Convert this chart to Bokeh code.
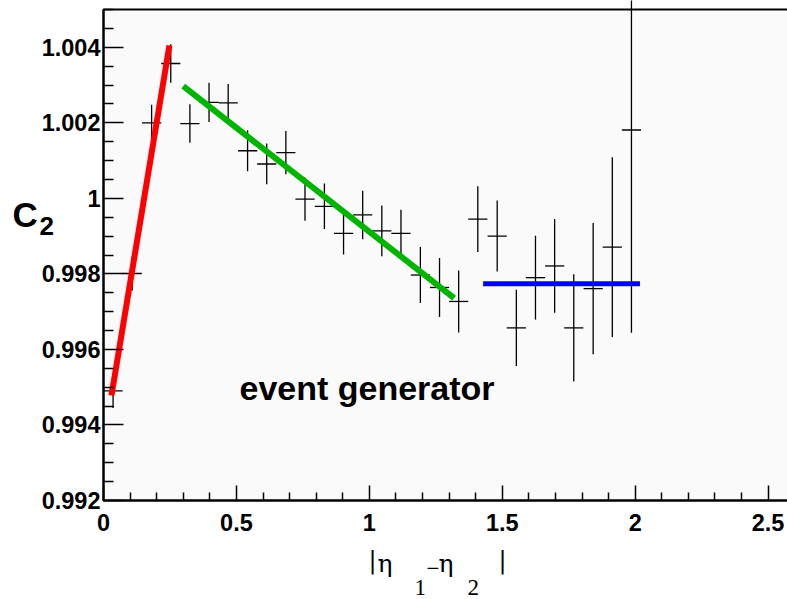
from bokeh.plotting import figure
from bokeh.models import FixedTicker, Label, BoxAnnotation
from bokeh.embed import file_html
from bokeh.resources import INLINE

# ---- data ----
eta_diff = [0.036, 0.108, 0.181, 0.253, 0.325, 0.397, 0.469, 0.542, 0.614, 0.686,
            0.758, 0.831, 0.903, 0.975, 1.047, 1.119, 1.192, 1.264, 1.336, 1.408,
            1.481, 1.553, 1.625, 1.697, 1.769, 1.842, 1.914, 1.986]
c2 = [0.99490, 0.99801, 1.00200, 1.00357, 1.00198, 1.00254, 1.00253, 1.00126, 1.00091, 1.00121,
      0.99998, 0.99979, 0.99907, 0.99956, 0.99914, 0.99907, 0.99797, 0.99764, 0.99727, 0.99945,
      0.99900, 0.99657, 0.99790, 0.99821, 0.99657, 0.99761, 0.99871, 1.00181]
c2_err = [0.00045, 0.00045, 0.00048, 0.00051, 0.00051, 0.00052, 0.00050, 0.00054, 0.00054, 0.00057,
          0.00057, 0.00060, 0.00056, 0.00064, 0.00067, 0.00063, 0.00074, 0.00078, 0.00082, 0.00087,
          0.00094, 0.00101, 0.00111, 0.00124, 0.00142, 0.00174, 0.00238, 0.00537]
bin_width = 0.0722

fit_red_x = [0.030, 0.248]
fit_red_y = [0.99478, 1.00405]
fit_green_x = [0.300, 1.319]
fit_green_y = [1.00297, 0.99736]
fit_blue_x = [1.428, 2.018]
fit_blue_y = [0.99774, 0.99774]

x_ticks = [0.0, 0.5, 1.0, 1.5, 2.0, 2.5]
x_tick_labels = ["0", "0.5", "1", "1.5", "2", "2.5"]
y_ticks = [0.992, 0.994, 0.996, 0.998, 1.0, 1.002, 1.004]
y_tick_labels = ["0.992", "0.994", "0.996", "0.998", "1", "1.002", "1.004"]

AX_X = (0.0, 2.573)      # visible axis span
AX_Y = (0.992, 1.005)

# ---- geometry (canvas pixels) ----
W, H = 787, 599
FL, FT, FR, FB = 103, 9, 787, 500   # plot area edges in canvas px
sx = (FR - FL) / (AX_X[1] - AX_X[0])
sy = (FB - FT) / (AX_Y[1] - AX_Y[0])
x_range = (AX_X[0] - FL / sx, AX_X[1] + (W - FR) / sx)
y_range = (AX_Y[0] - (H - FB) / sy, AX_Y[1] + FT / sy)

def px(xp, yp):
    return x_range[0] + xp / sx, y_range[1] - yp / sy

p = figure(width=W, height=H, x_range=x_range, y_range=y_range,
           output_backend="svg", toolbar_location=None,
           min_border_left=0, min_border_right=0, min_border_top=0, min_border_bottom=0)
p.background_fill_color = "white"
p.border_fill_color = "white"
p.outline_line_color = None
p.grid.visible = False

# plot area (frame) with top line
p.add_layout(BoxAnnotation(left=AX_X[0], right=AX_X[1] + 0.2, bottom=AX_Y[0], top=AX_Y[1],
                           fill_color="#fafafa", fill_alpha=1.0, line_color="black",
                           line_alpha=1.0, line_width=2, level="underlay"))

minor_x = [i * 0.1 for i in range(0, 26) if i % 5 != 0]
minor_y = [0.992 + i * 0.0005 for i in range(0, 27) if i % 4 != 0]
p.xaxis.ticker = FixedTicker(ticks=x_ticks, minor_ticks=minor_x)
p.yaxis.ticker = FixedTicker(ticks=y_ticks, minor_ticks=minor_y)
p.xaxis.major_label_overrides = {t: l for t, l in zip(x_ticks, x_tick_labels)}
p.yaxis.major_label_overrides = {t: l for t, l in zip(y_ticks, y_tick_labels)}
p.xaxis.fixed_location = AX_Y[0]
p.yaxis.fixed_location = AX_X[0]
p.xaxis.bounds = AX_X
p.yaxis.bounds = AX_Y

for ax in (p.xaxis, p.yaxis):
    ax.axis_line_color = "black"
    ax.axis_line_width = 2
    ax.major_tick_line_color = "black"
    ax.minor_tick_line_color = "black"
    ax.major_tick_line_width = 1.5
    ax.minor_tick_line_width = 1.5
    ax.major_tick_out = 0
    ax.minor_tick_out = 0
    ax.major_label_text_font = "Liberation Sans"
    ax.major_label_text_font_style = "bold"
    ax.major_label_text_font_size = "23.5px"
    ax.major_label_text_color = "black"
p.xaxis.major_tick_in = 15
p.xaxis.minor_tick_in = 8
p.yaxis.major_tick_in = 20
p.yaxis.minor_tick_in = 10
p.xaxis.major_label_standoff = 13
p.yaxis.major_label_standoff = 3

# error bars
x0 = [x - bin_width / 2 for x in eta_diff]
x1 = [x + bin_width / 2 for x in eta_diff]
ylo = [y - e for y, e in zip(c2, c2_err)]
yhi = [y + e for y, e in zip(c2, c2_err)]
p.segment(x0=x0, y0=c2, x1=x1, y1=c2, line_color="black", line_width=1.3)
p.segment(x0=eta_diff, y0=ylo, x1=eta_diff, y1=yhi, line_color="black", line_width=1.3)

# fits
p.line(fit_red_x, fit_red_y, line_color="#ff0000", line_width=6)
p.line(fit_green_x, fit_green_y, line_color="#00b400", line_width=6)
p.line(fit_blue_x, fit_blue_y, line_color="#0000ff", line_width=5)

# texts (yp = wanted baseline in canvas px; empirical correction for label anchoring)
K = 0.38
def add_text(txt, xp, yp, size, font="Liberation Sans", style="bold"):
    dx, dy = px(xp, yp - K * size)
    p.add_layout(Label(x=dx, y=dy, text=txt, text_font=font, text_font_style=style,
                       text_font_size=f"{size}px", text_color="black",
                       text_baseline="alphabetic", text_align="left"))

add_text("event generator", 239, 400, 34)
add_text("C", 12, 227, 35)
add_text("2", 39, 235, 26)
SERIF = "DejaVu Serif"
add_text("|", 368, 569, 24, font=SERIF, style="normal")
add_text("\u03b7", 377, 572, 25, font=SERIF, style="normal")
add_text("1", 414, 596, 23, font="Liberation Serif", style="normal")
add_text("\u2212", 426, 577, 23, font="Liberation Serif", style="normal")
add_text("\u03b7", 438, 572, 25, font=SERIF, style="normal")
add_text("2", 467, 596, 23, font="Liberation Serif", style="normal")
add_text("|", 498, 569, 24, font=SERIF, style="normal")

open("out.html", "w").write(file_html(p, INLINE))
